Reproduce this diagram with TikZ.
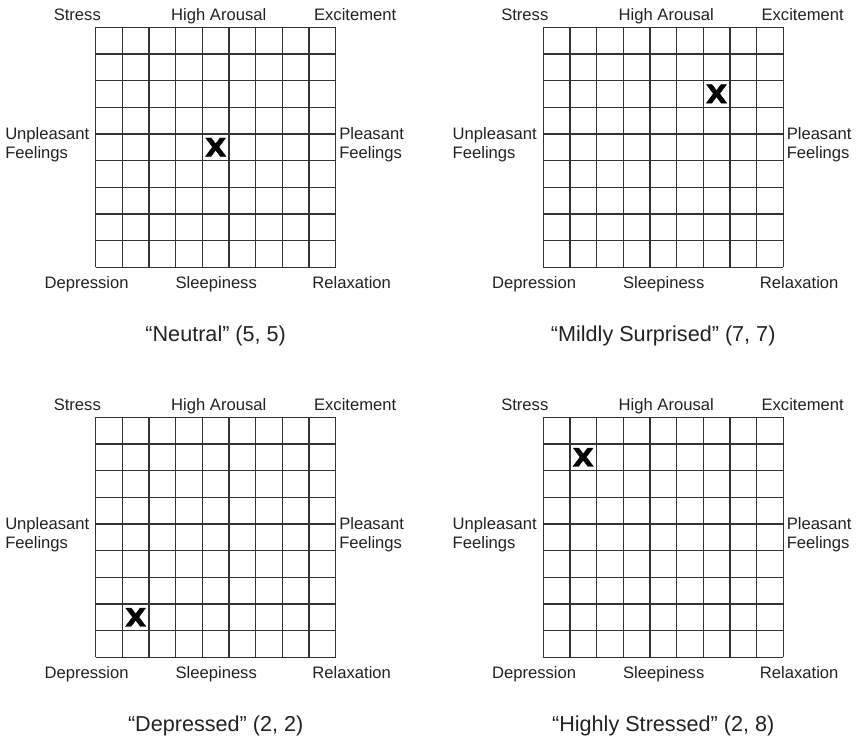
\documentclass[tikz,border=0pt]{standalone}
\usepackage{fontspec}
\setmainfont{Liberation Sans}
\newfontfamily\markfont{DejaVu Sans}[BoldFeatures={FakeBold=1.5}]
\usetikzlibrary{positioning}
\definecolor{gridgray}{HTML}{333333}
\definecolor{textgray}{HTML}{222222}

\begin{document}
\begin{tikzpicture}[
  x=0.8889cm, y=0.8889cm,
  cell/.style={draw=gridgray, line width=1.3pt, step={(1,1)}},
  axislabel/.style={font=\fontsize{15.75}{18}\selectfont, text=textgray, inner sep=0pt, anchor=base},
  sidelabel/.style={font=\fontsize{15.75}{18}\selectfont, text=textgray, inner sep=0pt, align=left, anchor=west},
  caption/.style={font=\fontsize{20.5}{24}\selectfont, text=textgray, inner sep=0pt, anchor=base},
  cross/.style={font=\markfont\bfseries\fontsize{24}{24}\selectfont, text=black, inner sep=0pt, xscale=1.1}
]
\useasboundingbox (0,0) rectangle (32.1,27.71);

% one mood grid per panel
\foreach \n/\px/\py/\mc/\mr/\cap in {
  neutral/3.589/17.69/5/5/{“Neutral” (5, 5)},
  surprised/20.37/17.69/7/7/{“Mildly Surprised” (7, 7)},
  depressed/3.589/3.063/2/2/{“Depressed” (2, 2)},
  stressed/20.37/3.063/2/8/{“Highly Stressed” (2, 8)}}{
  \begin{scope}[shift={(\px,\py)}]
    \draw[cell] (0,0) grid (9,9);
    \node[axislabel] (stress-\n) at (-0.69,9.26) {Stress};
    \node[axislabel] (arousal-\n) at (4.615,9.26) {High Arousal};
    \node[axislabel] (excite-\n) at (9.73,9.26) {Excitement};
    \node[axislabel] (depress-\n) at (-0.34,-0.79) {Depression};
    \node[axislabel] (sleep-\n) at (4.52,-0.79) {Sleepiness};
    \node[axislabel] (relax-\n) at (9.6,-0.79) {Relaxation};
    \node[sidelabel] (unpleasant-\n) at (-3.40,4.6) {Unpleasant\\Feelings};
    \node[sidelabel] (pleasant-\n) at (9.125,4.6) {Pleasant\\Feelings};
    \node[cross] (x-\n) at (\mc-0.5,\mr-0.5) {X};
    \node[caption] (cap-\n) at (4.5,-2.8) {\cap};
  \end{scope}
}
\end{tikzpicture}
\end{document}
